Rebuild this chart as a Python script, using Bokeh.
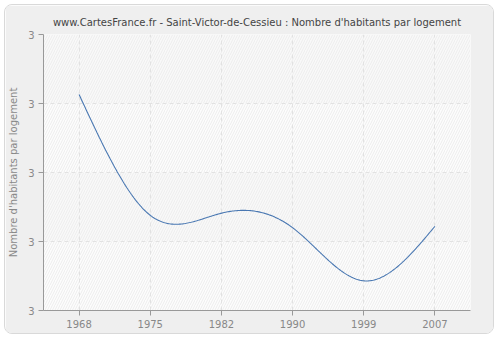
import numpy as np
from bokeh.plotting import figure
from bokeh.models import FixedTicker, PrintfTickFormatter, Range1d
from bokeh.embed import file_html
from bokeh.resources import INLINE

years = ["1968", "1975", "1982", "1990", "1999", "2007"]
values = [3.113, 2.938, 2.941, 2.920, 2.843, 2.922]
y_ticks = [2.8, 2.9, 3.0, 3.1, 3.2]

title = "www.CartesFrance.fr - Saint-Victor-de-Cessieu : Nombre d'habitants par logement"
y_label = "Nombre d'habitants par logement"


def natural_spline(xs, ys, n=300):
    xs = np.asarray(xs, float)
    ys = np.asarray(ys, float)
    k = len(xs)
    h = np.diff(xs)
    A = np.zeros((k, k))
    b = np.zeros(k)
    A[0, 0] = 1
    A[-1, -1] = 1
    for i in range(1, k - 1):
        A[i, i - 1] = h[i - 1]
        A[i, i] = 2 * (h[i - 1] + h[i])
        A[i, i + 1] = h[i]
        b[i] = 3 * ((ys[i + 1] - ys[i]) / h[i] - (ys[i] - ys[i - 1]) / h[i - 1])
    c = np.linalg.solve(A, b)
    xx = np.linspace(xs[0], xs[-1], n)
    yy = np.empty_like(xx)
    for j, x in enumerate(xx):
        i = min(np.searchsorted(xs, x, side="right") - 1, k - 2)
        dx = x - xs[i]
        bi = (ys[i + 1] - ys[i]) / h[i] - h[i] * (2 * c[i] + c[i + 1]) / 3
        di = (c[i + 1] - c[i]) / (3 * h[i])
        yy[j] = ys[i] + bi * dx + c[i] * dx ** 2 + di * dx ** 3
    return xx, yy


idx = list(range(len(years)))
sx, sy = natural_spline(idx, values)

p = figure(width=490, height=330, output_backend="svg", toolbar_location=None,
           x_range=Range1d(-0.5, len(years) - 0.5), y_range=Range1d(y_ticks[0], y_ticks[-1]),
           min_border_left=36, min_border_right=25, min_border_top=29, min_border_bottom=25,
           border_fill_color="#efefef", background_fill_color="#fcfcfc",
           outline_line_color=None)
p.margin = (4, 4, 4, 4)
p.styles = {"border-radius": "8px", "border": "1px solid #d9d9d9", "overflow": "hidden"}

p.title.text = title
p.title.align = "center"
p.title.offset = 12
p.title.standoff = 14
p.title.text_font = "DejaVu Sans"
p.title.text_font_size = "10px"
p.title.text_font_style = "normal"
p.title.text_color = "#444444"

# background bands
for i in range(len(y_ticks) - 1):
    dark = (len(y_ticks) - 2 - i) % 2 == 0
    p.quad(left=-0.5, right=len(years) - 0.5, bottom=y_ticks[i], top=y_ticks[i + 1],
           fill_color="#f9f9f9" if dark else "#fdfdfd", line_color=None,
           hatch_pattern="/", hatch_color="#ededed", hatch_scale=5, hatch_weight=1,
           level="image")

p.line(sx, sy, line_color="#4a78b2", line_width=1.1)

p.xaxis.ticker = FixedTicker(ticks=idx)
p.xaxis.major_label_overrides = {i: y for i, y in enumerate(years)}
p.yaxis.ticker = FixedTicker(ticks=y_ticks)
p.yaxis.formatter = PrintfTickFormatter(format="%.0f")
p.yaxis.axis_label = y_label
p.yaxis.axis_label_standoff = 6

for ax in (p.xaxis, p.yaxis):
    ax.axis_line_color = "#999999"
    ax.major_tick_line_color = "#999999"
    ax.major_tick_out = 5
    ax.major_tick_in = 0
    ax.minor_tick_line_color = None
    ax.major_label_standoff = 4
    ax.major_label_text_color = "#888888"
    ax.major_label_text_font = "DejaVu Sans"
    ax.major_label_text_font_size = "10px"
    ax.axis_label_text_color = "#888888"
    ax.axis_label_text_font = "DejaVu Sans"
    ax.axis_label_text_font_size = "10px"
    ax.axis_label_text_font_style = "normal"

for g in (p.xgrid, p.ygrid):
    g.grid_line_color = "#e2e2e2"
    g.grid_line_dash = "4 3"
    g.grid_line_width = 1
p.xgrid.ticker = FixedTicker(ticks=idx)
p.ygrid.ticker = FixedTicker(ticks=y_ticks)

open("out.html", "w").write(file_html(p, INLINE))
